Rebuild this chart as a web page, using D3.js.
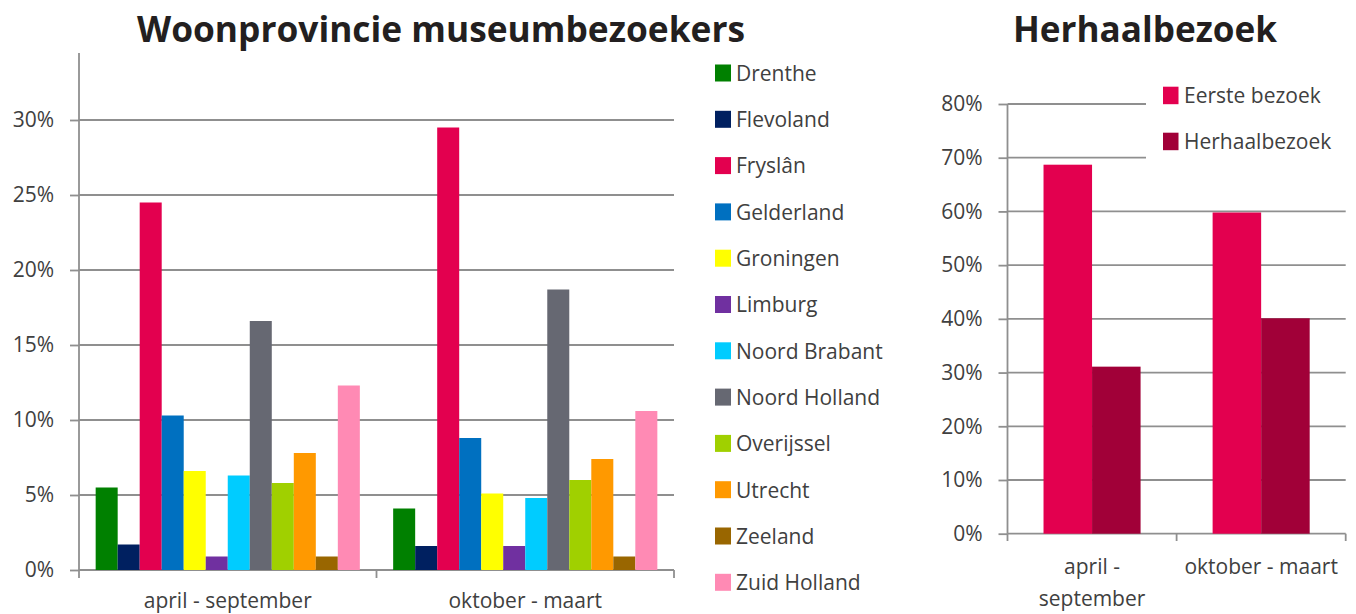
<!DOCTYPE html>
<html><head><meta charset="utf-8">
<script src="https://cdn.jsdelivr.net/npm/d3@7"></script>
<style>
html,body{margin:0;padding:0;background:#fff;}
svg{display:block;font-family:"Open Sans",sans-serif;}
</style></head><body>
<svg id="c" width="1356" height="614"></svg>
<script>
// ---- data ----
const periods = ["april - september", "oktober - maart"];
const provinces = ["Drenthe","Flevoland","Fryslân","Gelderland","Groningen","Limburg","Noord Brabant","Noord Holland","Overijssel","Utrecht","Zeeland","Zuid Holland"];
const aprSep = [0.055,0.017,0.245,0.103,0.066,0.009,0.063,0.166,0.058,0.078,0.009,0.123];
const oktMrt = [0.041,0.016,0.295,0.088,0.051,0.016,0.048,0.187,0.060,0.074,0.009,0.106];
const provColors = ["#008000","#002060","#E3004F","#0070C0","#FFFF00","#7030A0","#00CCFF","#666872","#A0D000","#FF9900","#996600","#FF8AB4"];
const leftTicks = [0,0.05,0.10,0.15,0.20,0.25,0.30,0.35];

const visitTypes = ["Eerste bezoek","Herhaalbezoek"];
const periodsRight = [["april -","september"],["oktober - maart"]];
const eerste = [0.687, 0.598];
const herhaal = [0.311, 0.401];
const visitColors = ["#E3004F","#A10038"];
const rightTicks = [0,0.1,0.2,0.3,0.4,0.5,0.6,0.7,0.8];

const svg = d3.select("#c");
const txt = "#404040", grid = "#8f8f8f";
const pct = d => Math.round(d*100) + "%";

// ---- left chart ----
svg.append("defs").append("clipPath").attr("id","clipL")
  .append("rect").attr("x",0).attr("y",52).attr("width",700).attr("height",600);
const L = svg.append("g").attr("clip-path","url(#clipL)");
const xL0 = d3.scaleBand().domain(periods).range([79,674]).padding(0);
const bwL = xL0.bandwidth();
const xL1 = d3.scaleBand().domain(provinces).range([bwL*0.056, bwL*(1-0.056)]).padding(0);
const yL = d3.scaleLinear().domain([0,0.35]).range([570,45]);

L.append("g").selectAll("line").data(leftTicks).join("line")
  .attr("x1",79).attr("x2",674).attr("y1",d=>yL(d)).attr("y2",d=>yL(d))
  .attr("stroke",grid).attr("stroke-width",1.8);

const seriesL = [aprSep, oktMrt];
periods.forEach((p,i)=>{
  L.append("g").selectAll("rect").data(provinces).join("rect")
    .attr("x",(d)=>xL0(p)+xL1(d)).attr("width",xL1.bandwidth())
    .attr("y",(d,j)=>yL(seriesL[i][j])).attr("height",(d,j)=>yL(0)-yL(seriesL[i][j]))
    .attr("fill",(d,j)=>provColors[j]);
});

const axL = L.append("g").attr("transform","translate(79,0)")
  .call(d3.axisLeft(yL).tickValues(leftTicks).tickFormat(pct).tickSize(9).tickPadding(16));
axL.select(".domain").attr("stroke",grid).attr("stroke-width",1.8).attr("d","M0,53V570");
axL.selectAll(".tick line").attr("stroke",grid).attr("stroke-width",1.8);
axL.selectAll(".tick text").attr("fill",txt).attr("font-size",21).attr("font-family","Open Sans");

const axLx = L.append("g").attr("transform","translate(0,570)")
  .call(d3.axisBottom(xL0).tickSize(0).tickPadding(23));
axLx.select(".domain").remove();
axLx.selectAll(".tick text").attr("fill",txt).attr("font-size",21).attr("font-family","Open Sans");
L.append("g").selectAll("line").data([79,674].concat(periods.slice(1).map(p=>xL0(p)))).join("line")
  .attr("x1",d=>d).attr("x2",d=>d).attr("y1",570).attr("y2",578).attr("stroke",grid).attr("stroke-width",1.8);

// left legend
const legL = svg.append("g").selectAll("g").data(provinces).join("g")
  .attr("transform",(d,i)=>`translate(715,${64.5+i*46.3})`);
legL.append("rect").attr("width",16).attr("height",17).attr("fill",(d,i)=>provColors[i]);
legL.append("text").attr("x",21).attr("y",16.3).text(d=>d)
  .attr("fill",txt).attr("font-size",21).attr("font-family","Open Sans");

svg.append("text").attr("x",441).attr("y",41.5).attr("text-anchor","middle")
  .attr("font-size",35).attr("font-weight","bold").attr("fill","#231f20")
  .attr("textLength",608).attr("lengthAdjust","spacingAndGlyphs")
  .text("Woonprovincie museumbezoekers");

// ---- right chart ----
const R = svg.append("g");
const xR0 = d3.scaleBand().domain(d3.range(periodsRight.length)).range([1007.5,1345.7]).padding(0);
const bwR = xR0.bandwidth();
const xR1 = d3.scaleBand().domain(visitTypes).range([bwR*0.213, bwR*(1-0.213)]).padding(0);
const yR = d3.scaleLinear().domain([0,0.8]).range([533.7,104]);

R.append("g").selectAll("line").data(rightTicks).join("line")
  .attr("x1",1007.5).attr("x2",1345.7).attr("y1",d=>yR(d)).attr("y2",d=>yR(d))
  .attr("stroke",grid).attr("stroke-width",1.8);

const seriesR = [eerste, herhaal];
visitTypes.forEach((v,k)=>{
  R.append("g").selectAll("rect").data(d3.range(periodsRight.length)).join("rect")
    .attr("x",i=>xR0(i)+xR1(v)).attr("width",xR1.bandwidth())
    .attr("y",i=>yR(seriesR[k][i])).attr("height",i=>yR(0)-yR(seriesR[k][i]))
    .attr("fill",visitColors[k]);
});

const axR = R.append("g").attr("transform","translate(1007.5,0)")
  .call(d3.axisLeft(yR).tickValues(rightTicks).tickFormat(pct).tickSize(9).tickPadding(16));
axR.select(".domain").attr("stroke",grid).attr("stroke-width",1.8).attr("d","M0,104V533.7");
axR.selectAll(".tick line").attr("stroke",grid).attr("stroke-width",1.8);
axR.selectAll(".tick text").attr("fill",txt).attr("font-size",21).attr("font-family","Open Sans");

R.append("g").selectAll("line").data([1007.5,1345.7].concat([1].map(i=>xR0(i)))).join("line")
  .attr("x1",d=>d).attr("x2",d=>d).attr("y1",533.7).attr("y2",541).attr("stroke",grid).attr("stroke-width",1.8);

const xlab = R.append("g").selectAll("text").data(periodsRight).join("text")
  .attr("x",(d,i)=>xR0(i)+bwR/2).attr("y",574.3).attr("text-anchor","middle")
  .attr("fill",txt).attr("font-size",21).attr("font-family","Open Sans");
xlab.selectAll("tspan").data(d=>d).join("tspan")
  .attr("x",function(){return this.parentNode.getAttribute("x");})
  .attr("dy",(d,j)=>j?31.4:0).text(d=>d);

// right legend (white box hides gridlines behind)
svg.append("rect").attr("x",1146).attr("y",80).attr("width",210).attr("height",88).attr("fill","#fff");
const legR = svg.append("g").selectAll("g").data(visitTypes).join("g")
  .attr("transform",(d,i)=>`translate(1163,${86.7+i*46})`);
legR.append("rect").attr("width",15.5).attr("height",17.5).attr("fill",(d,i)=>visitColors[i]);
legR.append("text").attr("x",21).attr("y",16.2).text(d=>d)
  .attr("fill",txt).attr("font-size",21).attr("font-family","Open Sans");

svg.append("text").attr("x",1145).attr("y",41.5).attr("text-anchor","middle")
  .attr("font-size",35).attr("font-weight","bold").attr("fill","#231f20")
  .attr("textLength",264).attr("lengthAdjust","spacingAndGlyphs")
  .text("Herhaalbezoek");
</script></body></html>
